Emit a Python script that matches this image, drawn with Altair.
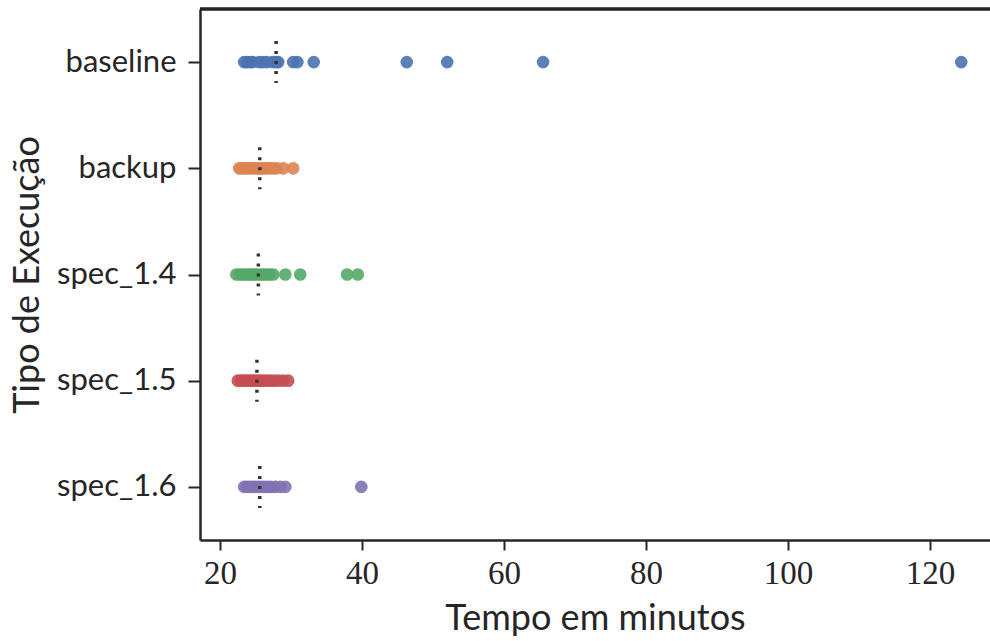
import altair as alt
import pandas as pd

categorias = ["baseline", "backup", "spec_1.4", "spec_1.5", "spec_1.6"]
cores = ["#4C72B0", "#DD8452", "#55A868", "#C44E52", "#8172B3"]

baseline = [23.4, 23.8, 24.2, 24.6, 25.5, 26.0, 26.6, 27.4, 27.9, 28.2,
            30.3, 30.9, 33.2, 46.3, 52.0, 65.5, 124.4]
backup = [22.7, 23.0, 23.3, 23.6, 24.0, 24.4, 24.8, 25.1, 25.4, 25.6,
          25.9, 26.2, 26.6, 27.0, 27.5, 28.0, 28.9, 30.3]
spec_14 = [22.3, 22.8, 23.2, 23.6, 24.0, 24.3, 24.7, 25.0, 25.4, 25.8,
           26.2, 26.6, 27.0, 27.5, 29.2, 31.3, 37.9, 39.4]
spec_15 = [22.5, 22.9, 23.3, 23.7, 24.1, 24.5, 24.9, 25.2, 25.6, 26.0,
           26.5, 27.0, 27.6, 28.2, 28.9, 29.6]
spec_16 = [23.4, 23.8, 24.2, 24.6, 25.0, 25.4, 25.8, 26.2, 26.7, 27.2,
           27.8, 28.5, 29.2, 39.9]
medianas = [27.9, 25.6, 25.4, 25.2, 25.6]

series = [baseline, backup, spec_14, spec_15, spec_16]
rows = []
for cat, vals in zip(categorias, series):
    for v in vals:
        rows.append({"tipo": cat, "tempo": v})
df = pd.DataFrame(rows)
df_med = pd.DataFrame({"tipo": categorias, "mediana": medianas})

AX = "#262626"
x_scale = alt.Scale(domain=[17.18, 128.45], nice=False, zero=False)
y_scale = alt.Scale(domain=categorias, type="point", padding=0.5)

pontos = alt.Chart(df).mark_circle(size=160, opacity=0.9).encode(
    x=alt.X("tempo:Q", scale=x_scale,
            axis=alt.Axis(title="Tempo em minutos", values=[20, 40, 60, 80, 100, 120],
                          grid=False, domainColor=AX, domainWidth=2.5,
                          tickColor=AX, tickWidth=2, tickSize=10,
                          labelFont="Liberation Serif", labelFontSize=33,
                          labelColor=AX, labelPadding=7,
                          titleFont="Lato", titleFontSize=36, titleFontWeight="normal",
                          titleColor=AX, titlePadding=11)),
    y=alt.Y("tipo:N", scale=y_scale,
            axis=alt.Axis(title="Tipo de Execução", grid=False, domainColor=AX,
                          domainWidth=2.5, tickColor=AX, tickWidth=2, tickSize=12,
                          labelFont="Lato", labelFontSize=31, labelColor=AX,
                          labelPadding=12,
                          titleFont="Lato", titleFontSize=36, titleFontWeight="normal",
                          titleColor=AX, titlePadding=10)),
    color=alt.Color("tipo:N", scale=alt.Scale(domain=categorias, range=cores), legend=None),
)

linhas = alt.Chart(df_med).mark_rule(
    color="#333333", strokeWidth=3.5, strokeDash=[3, 7], yOffset=-21, y2Offset=21
).encode(
    x=alt.X("mediana:Q", scale=x_scale),
    y=alt.Y("tipo:N", scale=y_scale),
    y2="tipo:N",
)

topo = alt.Chart(df_med).mark_rule(color=AX, strokeWidth=2.5).encode(
    x=alt.value(0), x2=alt.value(800), y=alt.value(0)
)

chart = alt.layer(pontos, linhas, topo).properties(
    width=790, height=531,
    autosize=alt.AutoSizeParams(type="none"),
    padding={"left": 200, "top": 9, "right": 0, "bottom": 101},
).configure_view(stroke=None).configure(background="white")

chart.save("out.html", embed_options={"renderer": "svg", "actions": False})
